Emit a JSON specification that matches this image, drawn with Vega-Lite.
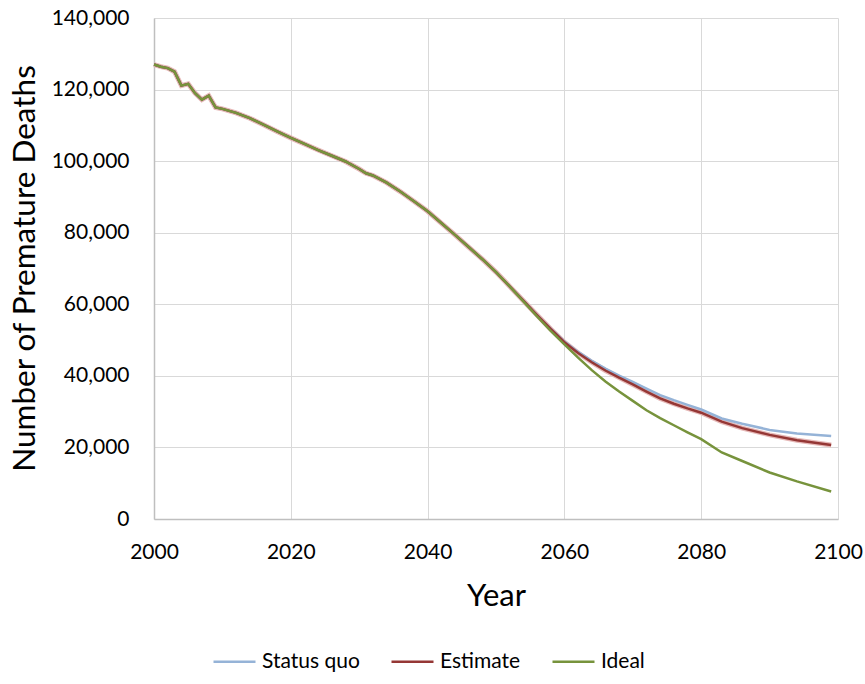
{
  "$schema": "https://vega.github.io/schema/vega-lite/v6.json",
  "width": 684,
  "height": 501,
  "autosize": {"type": "none"},
  "padding": {"left": 154, "top": 18, "right": 27, "bottom": 165},
  "background": "white",
  "config": {
    "font": "Lato",
    "view": {"stroke": null},
    "axis": {"labelFont": "Lato", "titleFont": "Lato", "labelColor": "#000000", "titleColor": "#000000", "titleFontWeight": "normal", "gridColor": "#D9D9D9", "gridWidth": 1, "domainColor": "#BFBFBF", "domainWidth": 1.5, "ticks": false}
  },
  "datasets": {
    "rows": [
      {"year": 2000, "series": "Status quo", "deaths": 127000},
      {"year": 2001, "series": "Status quo", "deaths": 126400},
      {"year": 2002, "series": "Status quo", "deaths": 126000},
      {"year": 2003, "series": "Status quo", "deaths": 125000},
      {"year": 2004, "series": "Status quo", "deaths": 121100},
      {"year": 2005, "series": "Status quo", "deaths": 121600},
      {"year": 2006, "series": "Status quo", "deaths": 119000},
      {"year": 2007, "series": "Status quo", "deaths": 117200},
      {"year": 2008, "series": "Status quo", "deaths": 118300},
      {"year": 2009, "series": "Status quo", "deaths": 115000},
      {"year": 2010, "series": "Status quo", "deaths": 114600},
      {"year": 2012, "series": "Status quo", "deaths": 113500},
      {"year": 2014, "series": "Status quo", "deaths": 112000},
      {"year": 2016, "series": "Status quo", "deaths": 110200},
      {"year": 2018, "series": "Status quo", "deaths": 108300},
      {"year": 2020, "series": "Status quo", "deaths": 106500},
      {"year": 2022, "series": "Status quo", "deaths": 104800},
      {"year": 2024, "series": "Status quo", "deaths": 103100},
      {"year": 2026, "series": "Status quo", "deaths": 101500},
      {"year": 2028, "series": "Status quo", "deaths": 99900},
      {"year": 2030, "series": "Status quo", "deaths": 97800},
      {"year": 2031, "series": "Status quo", "deaths": 96600},
      {"year": 2032, "series": "Status quo", "deaths": 96000},
      {"year": 2034, "series": "Status quo", "deaths": 94000},
      {"year": 2036, "series": "Status quo", "deaths": 91500},
      {"year": 2038, "series": "Status quo", "deaths": 88800},
      {"year": 2040, "series": "Status quo", "deaths": 86000},
      {"year": 2042, "series": "Status quo", "deaths": 82700},
      {"year": 2044, "series": "Status quo", "deaths": 79400},
      {"year": 2046, "series": "Status quo", "deaths": 76000},
      {"year": 2048, "series": "Status quo", "deaths": 72600},
      {"year": 2050, "series": "Status quo", "deaths": 69000},
      {"year": 2052, "series": "Status quo", "deaths": 65000},
      {"year": 2054, "series": "Status quo", "deaths": 61000},
      {"year": 2056, "series": "Status quo", "deaths": 57000},
      {"year": 2058, "series": "Status quo", "deaths": 53200},
      {"year": 2060, "series": "Status quo", "deaths": 49600},
      {"year": 2062, "series": "Status quo", "deaths": 46700},
      {"year": 2064, "series": "Status quo", "deaths": 44200},
      {"year": 2066, "series": "Status quo", "deaths": 42000},
      {"year": 2068, "series": "Status quo", "deaths": 40100},
      {"year": 2070, "series": "Status quo", "deaths": 38300},
      {"year": 2072, "series": "Status quo", "deaths": 36400},
      {"year": 2074, "series": "Status quo", "deaths": 34600},
      {"year": 2076, "series": "Status quo", "deaths": 33200},
      {"year": 2078, "series": "Status quo", "deaths": 31900},
      {"year": 2080, "series": "Status quo", "deaths": 30600},
      {"year": 2083, "series": "Status quo", "deaths": 28100},
      {"year": 2086, "series": "Status quo", "deaths": 26600},
      {"year": 2090, "series": "Status quo", "deaths": 24900},
      {"year": 2094, "series": "Status quo", "deaths": 23900},
      {"year": 2099, "series": "Status quo", "deaths": 23200},
      {"year": 2000, "series": "Estimate", "deaths": 127000},
      {"year": 2001, "series": "Estimate", "deaths": 126400},
      {"year": 2002, "series": "Estimate", "deaths": 126000},
      {"year": 2003, "series": "Estimate", "deaths": 125000},
      {"year": 2004, "series": "Estimate", "deaths": 121100},
      {"year": 2005, "series": "Estimate", "deaths": 121600},
      {"year": 2006, "series": "Estimate", "deaths": 119000},
      {"year": 2007, "series": "Estimate", "deaths": 117200},
      {"year": 2008, "series": "Estimate", "deaths": 118300},
      {"year": 2009, "series": "Estimate", "deaths": 115000},
      {"year": 2010, "series": "Estimate", "deaths": 114600},
      {"year": 2012, "series": "Estimate", "deaths": 113500},
      {"year": 2014, "series": "Estimate", "deaths": 112000},
      {"year": 2016, "series": "Estimate", "deaths": 110200},
      {"year": 2018, "series": "Estimate", "deaths": 108300},
      {"year": 2020, "series": "Estimate", "deaths": 106500},
      {"year": 2022, "series": "Estimate", "deaths": 104800},
      {"year": 2024, "series": "Estimate", "deaths": 103100},
      {"year": 2026, "series": "Estimate", "deaths": 101500},
      {"year": 2028, "series": "Estimate", "deaths": 99900},
      {"year": 2030, "series": "Estimate", "deaths": 97800},
      {"year": 2031, "series": "Estimate", "deaths": 96600},
      {"year": 2032, "series": "Estimate", "deaths": 96000},
      {"year": 2034, "series": "Estimate", "deaths": 94000},
      {"year": 2036, "series": "Estimate", "deaths": 91500},
      {"year": 2038, "series": "Estimate", "deaths": 88800},
      {"year": 2040, "series": "Estimate", "deaths": 86000},
      {"year": 2042, "series": "Estimate", "deaths": 82700},
      {"year": 2044, "series": "Estimate", "deaths": 79400},
      {"year": 2046, "series": "Estimate", "deaths": 76000},
      {"year": 2048, "series": "Estimate", "deaths": 72600},
      {"year": 2050, "series": "Estimate", "deaths": 69000},
      {"year": 2052, "series": "Estimate", "deaths": 65000},
      {"year": 2054, "series": "Estimate", "deaths": 61000},
      {"year": 2056, "series": "Estimate", "deaths": 57000},
      {"year": 2058, "series": "Estimate", "deaths": 53100},
      {"year": 2060, "series": "Estimate", "deaths": 49400},
      {"year": 2062, "series": "Estimate", "deaths": 46400},
      {"year": 2064, "series": "Estimate", "deaths": 43800},
      {"year": 2066, "series": "Estimate", "deaths": 41500},
      {"year": 2068, "series": "Estimate", "deaths": 39500},
      {"year": 2070, "series": "Estimate", "deaths": 37600},
      {"year": 2072, "series": "Estimate", "deaths": 35600},
      {"year": 2074, "series": "Estimate", "deaths": 33700},
      {"year": 2076, "series": "Estimate", "deaths": 32200},
      {"year": 2078, "series": "Estimate", "deaths": 30900},
      {"year": 2080, "series": "Estimate", "deaths": 29700},
      {"year": 2083, "series": "Estimate", "deaths": 27200},
      {"year": 2086, "series": "Estimate", "deaths": 25400},
      {"year": 2090, "series": "Estimate", "deaths": 23500},
      {"year": 2094, "series": "Estimate", "deaths": 22000},
      {"year": 2099, "series": "Estimate", "deaths": 20700},
      {"year": 2000, "series": "Ideal", "deaths": 127000},
      {"year": 2001, "series": "Ideal", "deaths": 126400},
      {"year": 2002, "series": "Ideal", "deaths": 126000},
      {"year": 2003, "series": "Ideal", "deaths": 125000},
      {"year": 2004, "series": "Ideal", "deaths": 121100},
      {"year": 2005, "series": "Ideal", "deaths": 121600},
      {"year": 2006, "series": "Ideal", "deaths": 119000},
      {"year": 2007, "series": "Ideal", "deaths": 117200},
      {"year": 2008, "series": "Ideal", "deaths": 118300},
      {"year": 2009, "series": "Ideal", "deaths": 115000},
      {"year": 2010, "series": "Ideal", "deaths": 114600},
      {"year": 2012, "series": "Ideal", "deaths": 113500},
      {"year": 2014, "series": "Ideal", "deaths": 112000},
      {"year": 2016, "series": "Ideal", "deaths": 110200},
      {"year": 2018, "series": "Ideal", "deaths": 108300},
      {"year": 2020, "series": "Ideal", "deaths": 106500},
      {"year": 2022, "series": "Ideal", "deaths": 104800},
      {"year": 2024, "series": "Ideal", "deaths": 103100},
      {"year": 2026, "series": "Ideal", "deaths": 101500},
      {"year": 2028, "series": "Ideal", "deaths": 99900},
      {"year": 2030, "series": "Ideal", "deaths": 97800},
      {"year": 2031, "series": "Ideal", "deaths": 96600},
      {"year": 2032, "series": "Ideal", "deaths": 96000},
      {"year": 2034, "series": "Ideal", "deaths": 94000},
      {"year": 2036, "series": "Ideal", "deaths": 91500},
      {"year": 2038, "series": "Ideal", "deaths": 88800},
      {"year": 2040, "series": "Ideal", "deaths": 86000},
      {"year": 2042, "series": "Ideal", "deaths": 82700},
      {"year": 2044, "series": "Ideal", "deaths": 79400},
      {"year": 2046, "series": "Ideal", "deaths": 76000},
      {"year": 2048, "series": "Ideal", "deaths": 72600},
      {"year": 2050, "series": "Ideal", "deaths": 69000},
      {"year": 2052, "series": "Ideal", "deaths": 65000},
      {"year": 2054, "series": "Ideal", "deaths": 60800},
      {"year": 2056, "series": "Ideal", "deaths": 56600},
      {"year": 2058, "series": "Ideal", "deaths": 52600},
      {"year": 2060, "series": "Ideal", "deaths": 48800},
      {"year": 2062, "series": "Ideal", "deaths": 45100},
      {"year": 2064, "series": "Ideal", "deaths": 41600},
      {"year": 2066, "series": "Ideal", "deaths": 38400},
      {"year": 2068, "series": "Ideal", "deaths": 35600},
      {"year": 2070, "series": "Ideal", "deaths": 33000},
      {"year": 2072, "series": "Ideal", "deaths": 30400},
      {"year": 2074, "series": "Ideal", "deaths": 28200},
      {"year": 2076, "series": "Ideal", "deaths": 26200},
      {"year": 2078, "series": "Ideal", "deaths": 24200},
      {"year": 2080, "series": "Ideal", "deaths": 22300},
      {"year": 2083, "series": "Ideal", "deaths": 18600},
      {"year": 2086, "series": "Ideal", "deaths": 16200},
      {"year": 2090, "series": "Ideal", "deaths": 13000},
      {"year": 2094, "series": "Ideal", "deaths": 10500},
      {"year": 2099, "series": "Ideal", "deaths": 7700}
    ]
  },
  "data": {"name": "rows"},
  "encoding": {
    "x": {"field": "year", "type": "quantitative", "title": "Year",
      "scale": {"domain": [2000, 2100], "nice": false, "zero": false},
      "axis": {"values": [2000, 2020, 2040, 2060, 2080, 2100], "format": "d", "labelFontSize": 21, "labelPadding": 22, "titleFontSize": 31, "titleBaseline": "alphabetic", "titleY": 86, "labelFlush": false}},
    "y": {"field": "deaths", "type": "quantitative", "title": "Number of Premature Deaths",
      "scale": {"domain": [0, 140000], "nice": false},
      "axis": {"values": [0, 20000, 40000, 60000, 80000, 100000, 120000, 140000], "format": ",.0f", "labelFontSize": 21, "labelPadding": 25, "titleFontSize": 31.5, "titleBaseline": "alphabetic", "titleX": -120, "titleY": 250, "titleAngle": -90}}
  },
  "layer": [
    {
      "transform": [{"filter": "datum.series === 'Estimate'"}],
      "mark": {"type": "line", "color": "#E6B9B8", "strokeWidth": 5}
    },
    {
      "mark": {"type": "line", "strokeWidth": 2.5},
      "encoding": {
        "color": {"field": "series", "type": "nominal", "title": null,
          "sort": ["Status quo", "Estimate", "Ideal"],
          "scale": {"domain": ["Status quo", "Estimate", "Ideal"], "range": ["#95B3D7", "#953735", "#77933C"]},
          "legend": {"orient": "none", "legendX": 58, "legendY": 621, "direction": "horizontal", "symbolType": "stroke", "symbolSize": 1764, "symbolStrokeWidth": 2.5, "labelFont": "Lato", "labelFontSize": 21, "labelColor": "#000000", "labelOffset": 5, "columnPadding": 26}}
      }
    }
  ]
}
